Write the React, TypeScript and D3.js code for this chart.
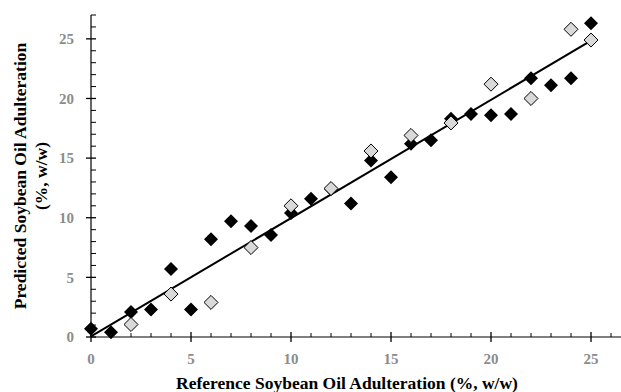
import { useEffect, useRef } from "react";
import * as d3 from "d3";

// Calibration set (black) and validation set (grey), % w/w
const calX = [0, 1, 2, 3, 4, 5, 6, 7, 8, 9, 10, 11, 12, 13, 14, 15, 16, 17, 18, 19, 20, 21, 22, 23, 24, 25];
const calY = [0.7, 0.4, 2.1, 2.3, 5.7, 2.3, 8.2, 9.7, 9.3, 8.55, 10.4, 11.6, 12.4, 11.2, 14.8, 13.4, 16.2, 16.5, 18.3, 18.7, 18.6, 18.7, 21.7, 21.1, 21.7, 26.3];

const valX = [2, 4, 6, 8, 10, 12, 14, 16, 18, 20, 22, 24, 25];
const valY = [1.05, 3.6, 2.9, 7.5, 11.0, 12.45, 15.6, 16.9, 17.95, 21.2, 20.0, 25.8, 24.9];

// regression line ends
const fitX = [0, 25];
const fitY = [0.05, 24.85];

const xTicks = [0, 5, 10, 15, 20, 25];
const yTicks = [0, 5, 10, 15, 20, 25];

const W = 621;
const H = 392;
const FONT = "'Liberation Serif', 'Times New Roman', serif";

export default function App() {
  const svgRef = useRef<SVGSVGElement>(null);

  useEffect(() => {
    const svg = d3.select(svgRef.current);
    svg.selectAll("*").remove();

    const x = d3.scaleLinear().domain([0, 26.5]).range([91, 621]);
    const y = d3.scaleLinear().domain([0, 27]).range([337, 15]);

    const g = svg.append("g");

    // axes lines
    g.append("line").attr("x1", x(0)).attr("x2", x(26.5)).attr("y1", y(0)).attr("y2", y(0))
      .attr("stroke", "#000").attr("stroke-width", 1.2);
    g.append("line").attr("x1", x(0)).attr("x2", x(0)).attr("y1", y(0)).attr("y2", y(27))
      .attr("stroke", "#000").attr("stroke-width", 1.2);

    // minor ticks every unit
    const xMinor = d3.range(1, 27).filter(v => v % 5 !== 0);
    g.selectAll(".xm").data(xMinor).enter().append("line")
      .attr("x1", d => x(d)).attr("x2", d => x(d))
      .attr("y1", y(0)).attr("y2", y(0) - 4)
      .attr("stroke", "#000").attr("stroke-width", 1);
    const yMinor = d3.range(1, 28).filter(v => v % 5 !== 0);
    g.selectAll(".ym").data(yMinor).enter().append("line")
      .attr("x1", x(0)).attr("x2", x(0) + 5)
      .attr("y1", d => y(d)).attr("y2", d => y(d))
      .attr("stroke", "#000").attr("stroke-width", 1);

    // major ticks crossing the axis
    g.selectAll(".xM").data(xTicks).enter().append("line")
      .attr("x1", d => x(d)).attr("x2", d => x(d))
      .attr("y1", y(0) - 5).attr("y2", y(0) + 5)
      .attr("stroke", "#000").attr("stroke-width", 1.3);
    g.selectAll(".yM").data(yTicks).enter().append("line")
      .attr("x1", x(0) - 5).attr("x2", x(0) + 5)
      .attr("y1", d => y(d)).attr("y2", d => y(d))
      .attr("stroke", "#000").attr("stroke-width", 1.3);

    // tick labels
    g.selectAll(".xl").data(xTicks).enter().append("text")
      .attr("x", d => x(d)).attr("y", 364)
      .attr("text-anchor", "middle")
      .attr("font-family", FONT).attr("font-weight", "bold").attr("font-size", 15)
      .attr("fill", "#8c8c8c")
      .text(d => d);
    g.selectAll(".yl").data(yTicks).enter().append("text")
      .attr("x", 74).attr("y", d => y(d)).attr("dy", "0.35em")
      .attr("text-anchor", "end")
      .attr("font-family", FONT).attr("font-weight", "bold").attr("font-size", 15)
      .attr("fill", "#8c8c8c")
      .text(d => d);

    // axis titles
    g.append("text")
      .attr("x", 347).attr("y", 389)
      .attr("text-anchor", "middle")
      .attr("font-family", FONT).attr("font-weight", "bold").attr("font-size", 17.5)
      .attr("fill", "#000")
      .text("Reference Soybean Oil Adulteration (%, w/w)");
    const yt = g.append("text")
      .attr("transform", "translate(26,176) rotate(-90)")
      .attr("text-anchor", "middle")
      .attr("font-family", FONT).attr("font-weight", "bold").attr("font-size", 17.5)
      .attr("fill", "#000");
    yt.append("tspan").attr("x", 0).attr("y", 0).text("Predicted Soybean Oil Adulteration");
    yt.append("tspan").attr("x", 0).attr("y", 21).text("(%, w/w)");

    // fit line
    const line = d3.line<number>().x((_, i) => x(fitX[i])).y(d => y(d));
    g.append("path").datum(fitY).attr("d", line)
      .attr("fill", "none").attr("stroke", "#000").attr("stroke-width", 2);

    const diamond = d3.symbol().type(d3.symbolDiamond2).size(125);

    g.selectAll(".cal").data(calX.map((v, i) => [v, calY[i]])).enter().append("path")
      .attr("d", diamond)
      .attr("transform", d => `translate(${x(d[0])},${y(d[1])})`)
      .attr("fill", "#000");

    g.selectAll(".val").data(valX.map((v, i) => [v, valY[i]])).enter().append("path")
      .attr("d", diamond)
      .attr("transform", d => `translate(${x(d[0])},${y(d[1])})`)
      .attr("fill", "#d9d9d9").attr("stroke", "#000").attr("stroke-width", 1);
  }, []);

  return (
    <svg
      ref={svgRef}
      width={W}
      height={H}
      style={{ position: "absolute", left: 0, top: 0, background: "#fff" }}
    />
  );
}
